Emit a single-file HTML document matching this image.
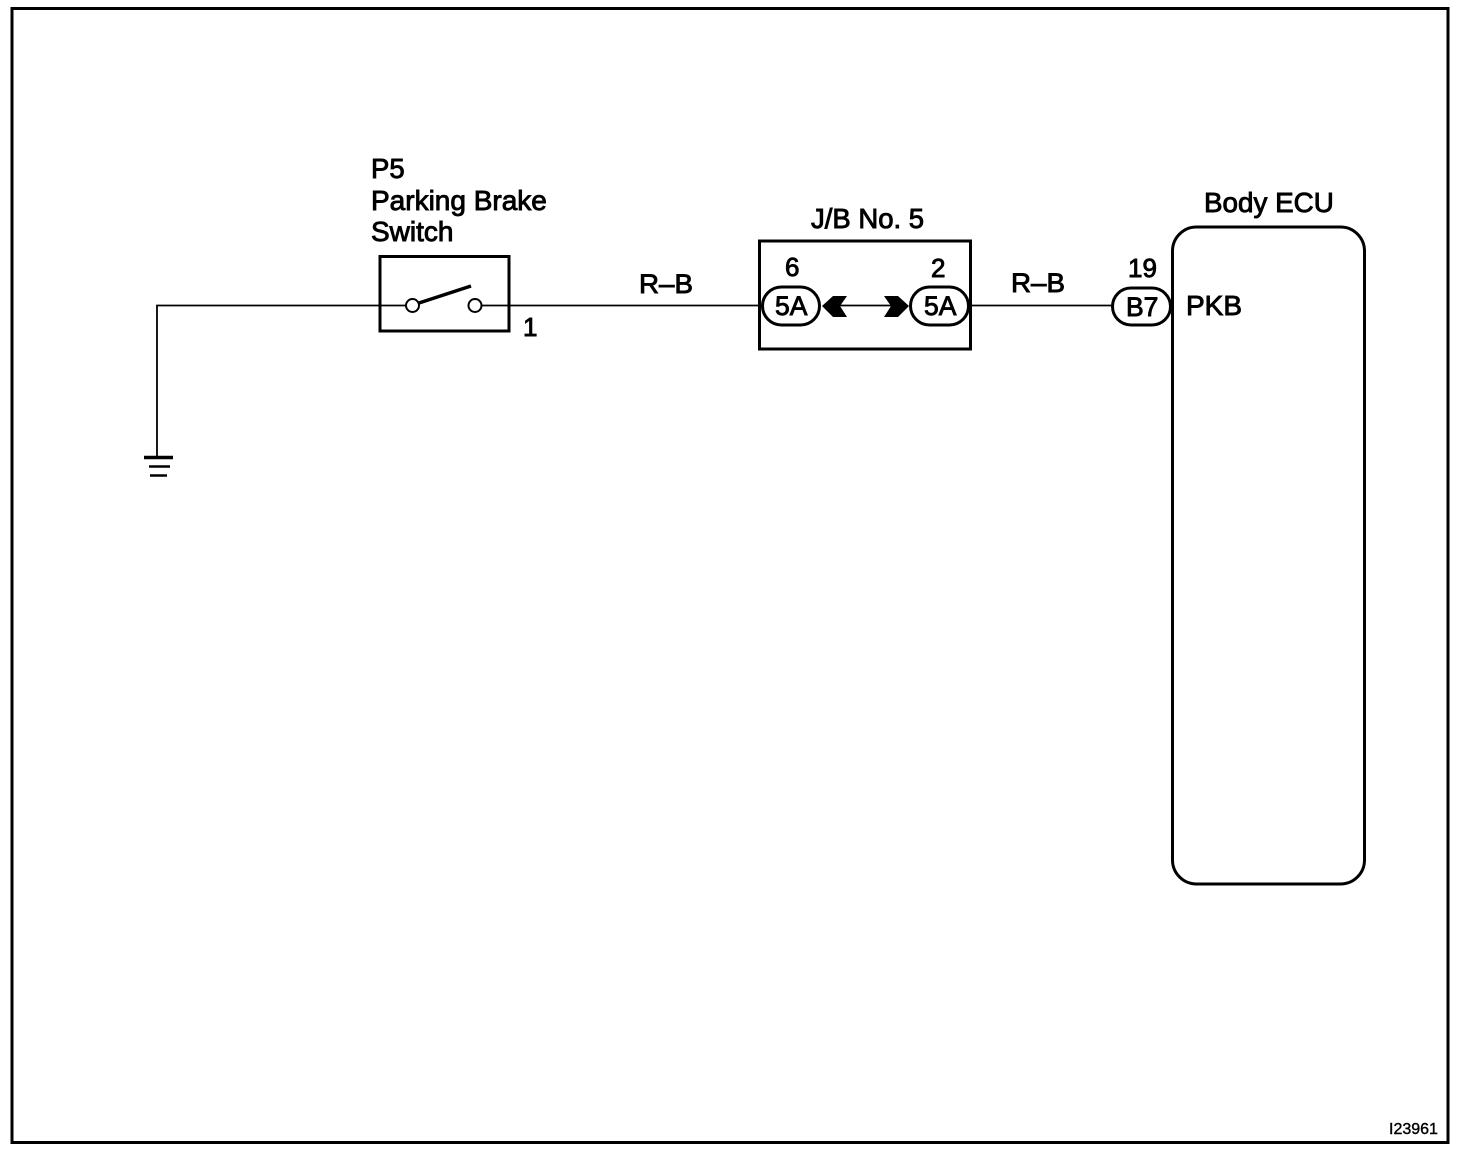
<!DOCTYPE html>
<html>
<head>
<meta charset="utf-8">
<style>
html,body{margin:0;padding:0;background:#fff;width:1472px;height:1156px;overflow:hidden}
svg{display:block}
text{font-family:"Liberation Sans",sans-serif;fill:#000;stroke:#000;stroke-width:.9px}
</style>
</head>
<body>
<svg width="1472" height="1156" viewBox="0 0 1472 1156" xmlns="http://www.w3.org/2000/svg">
<rect width="1472" height="1156" fill="#fff"/>
<g fill="none" stroke="#000">
  <!-- frame -->
  <rect x="12" y="8.500" width="1436" height="1134" stroke-width="3"/>
  <!-- ground wire -->
  <path d="M157 456V305.500H406" stroke-width="1.800"/>
  <path d="M144 457.500H173" stroke-width="3.500"/>
  <path d="M149 466.500H170" stroke-width="2.500"/>
  <path d="M150 475.500H167" stroke-width="2.500"/>
  <!-- switch -->
  <rect x="380" y="256.500" width="129" height="74.500" stroke-width="3"/>
  <circle cx="412.500" cy="305.500" r="6.500" stroke-width="2"/>
  <circle cx="475" cy="305.500" r="6.500" stroke-width="2"/>
  <path d="M419 303L471 286" stroke-width="3.500"/>
  <path d="M481.500 305.500H762" stroke-width="1.800"/>
  <!-- J/B -->
  <rect x="759.500" y="241" width="211" height="108" stroke-width="3"/>
  <rect x="762.500" y="287" width="57" height="38" rx="19" stroke-width="3"/>
  <rect x="910.500" y="287" width="58" height="38" rx="19" stroke-width="3"/>
  <path d="M840 305.500H892" stroke-width="1.800"/>
  <path d="M970 305.500H1112" stroke-width="1.800"/>
  <!-- B7 -->
  <rect x="1112.500" y="288" width="58" height="37" rx="18.500" stroke-width="3"/>
  <!-- Body ECU -->
  <rect x="1172.500" y="227" width="192" height="657" rx="24" stroke-width="3"/>
</g>
<path d="M822 306L833 296H847L840 306L847 317H833Z" fill="#000"/>
<path d="M884 296H898L909 306L898 317H884L891 306Z" fill="#000"/>

<text x="371" y="178" font-size="27.500">P5</text>
<text x="371" y="210" font-size="28">Parking Brake</text>
<text x="371" y="241" font-size="28">Switch</text>
<text x="523" y="336" font-size="26">1</text>
<text x="639" y="293" font-size="27" textLength="54" lengthAdjust="spacingAndGlyphs">R–B</text>
<text x="811" y="228" font-size="27.500">J/B No. 5</text>
<text x="785" y="276" font-size="26">6</text>
<text x="931" y="277" font-size="26">2</text>
<text x="775" y="315" font-size="26.500">5A</text>
<text x="924" y="315" font-size="26.500">5A</text>
<text x="1011" y="292" font-size="27" textLength="54" lengthAdjust="spacingAndGlyphs">R–B</text>
<text x="1128" y="277" font-size="26">19</text>
<text x="1126" y="316" font-size="26.500">B7</text>
<text x="1186" y="315" font-size="28">PKB</text>
<text x="1204" y="212" font-size="27.800">Body ECU</text>
<text x="1389" y="1134" font-size="16" style="stroke-width:.4px">I23961</text>
</svg>
</body>
</html>
